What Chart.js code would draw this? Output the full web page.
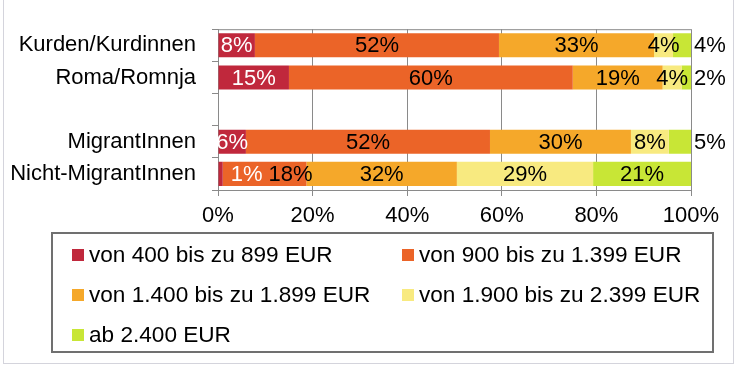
<!DOCTYPE html>
<html>
<head>
<meta charset="utf-8">
<script src="https://cdn.jsdelivr.net/npm/chart.js@4/dist/chart.umd.min.js"></script>
<style>
  body { margin: 0; background: #fff; }
  #wrap { position: relative; width: 734px; height: 366px; overflow: hidden; font-family: "Liberation Sans", Arial, sans-serif; }
  #frame { position: absolute; left: 3px; top: -2px; width: 731px; height: 366px; box-sizing: border-box; border: 1px solid #d4d4dc; }
  canvas { position: absolute; left: 0; top: 0; }
  #legend { position: absolute; left: 51px; top: 232px; width: 663px; height: 121px; box-sizing: border-box;
    border: 2px solid #707070; display: grid; grid-template-columns: 330px 310px; grid-auto-rows: 40px;
    padding: 1px 0 0 19px; }
  .item { display: flex; align-items: center; font-size: 22.6px; color: #000; white-space: nowrap; }
  .box { width: 12px; height: 12px; margin-right: 5px; flex: none; }
</style>
</head>
<body>
<div id="wrap">
  <div id="frame"></div>
  <canvas id="chart" width="734" height="366"></canvas>
  <div id="legend"></div>
</div>
<script>
// groups (empty one is the gap between the two blocks)
var groups = ["Kurden/Kurdinnen", "Roma/Romnja", "", "MigrantInnen", "Nicht-MigrantInnen"];

// income classes
var classes = [
  "von 400 bis zu 899 EUR",
  "von 900 bis zu 1.399 EUR",
  "von 1.400 bis zu 1.899 EUR",
  "von 1.900 bis zu 2.399 EUR",
  "ab 2.400 EUR"
];
var colors = ["#c0283c", "#eb6428", "#f5a82a", "#f8ea80", "#c8e636"];

// shares in percent, one array per income class
var share400 = [7.8, 15, null, 5.9, 1.0];
var share900 = [51.6, 60, null, 51.6, 17.7];
var share1400 = [32.8, 19, null, 29.8, 31.8];
var share1900 = [4.0, 4, null, 8.0, 28.8];
var share2400 = [3.8, 2, null, 4.7, 20.7];

var xTicks = [0, 20, 40, 60, 80, 100];

Chart.defaults.font.family = "'Liberation Sans', Arial, sans-serif";
Chart.defaults.font.size = 22;
Chart.defaults.color = "#000";

var series = [share400, share900, share1400, share1900, share2400];

var datasets = series.map(function (values, i) {
  return {
    label: classes[i],
    data: values,
    backgroundColor: colors[i],
    borderWidth: 0,
    categoryPercentage: 1,
    barPercentage: 0.75,
  };
});

// plot border (top line) like the excel plot area
var frameLines = {
  id: "frameLines",
  afterDraw: function (chart) {
    var a = chart.chartArea;
    var ctx = chart.ctx;
    ctx.save();
    ctx.strokeStyle = "#8a8a8a";
    ctx.lineWidth = 1;
    ctx.beginPath();
    ctx.moveTo(a.left, a.top + 0.5);
    ctx.lineTo(a.right, a.top + 0.5);
    ctx.stroke();
    ctx.restore();
  },
};

// percent labels inside the segments, pushed aside where they do not fit
var segLabels = {
  id: "segLabels",
  afterDatasetsDraw: function (chart) {
    var ctx = chart.ctx;
    ctx.save();
    ctx.font = "22px 'Liberation Sans', Arial, sans-serif";
    ctx.textBaseline = "middle";
    ctx.textAlign = "left";
    var last = chart.data.datasets.length - 1;
    chart.data.labels.forEach(function (g, row) {
      var prevRight = -1000;
      chart.data.datasets.forEach(function (ds, k) {
        var v = ds.data[row];
        if (v == null) return;
        var el = chart.getDatasetMeta(k).data[row];
        var txt = Math.round(v) + "%";
        var w = ctx.measureText(txt).width;
        var segW = el.x - el.base;
        var left = (el.x + el.base) / 2 - w / 2;
        if (k === last && w + 2 > segW) {
          left = el.x + 3;
        } else if (k === 0 && segW < w / 2) {
          left = el.x + 8;
        }
        if (left < prevRight + 4) left = prevRight + 6;
        ctx.fillStyle = k === 0 ? "#fff" : "#000";
        ctx.fillText(txt, left, el.y + 1);
        prevRight = left + w;
      });
    });
    ctx.restore();
  },
};

var chart = new Chart(document.getElementById("chart"), {
  type: "bar",
  data: { labels: groups, datasets: datasets },
  plugins: [frameLines, segLabels],
  options: {
    indexAxis: "y",
    responsive: false,
    animation: false,
    layout: { padding: { top: 17, right: 43, bottom: 136, left: 0 } },
    plugins: {
      legend: { display: false },
      tooltip: { enabled: false },
    },
    scales: {
      x: {
        stacked: true,
        min: 0,
        max: 100,
        afterFit: function (s) { s.height = 40; },
        afterBuildTicks: function (s) {
          s.ticks = xTicks.map(function (v) { return { value: v }; });
        },
        ticks: {
          padding: 7,
          maxRotation: 0,
          callback: function (v) { return v + "%"; },
        },
        grid: { color: "#8a8a8a", tickLength: 6 },
        border: { color: "#8a8a8a" },
      },
      y: {
        stacked: true,
        afterFit: function (s) { s.width = 218; },
        ticks: { padding: 16 },
        grid: { drawOnChartArea: false, color: "#8a8a8a", tickLength: 6, offset: true },
        border: { color: "#8a8a8a" },
      },
    },
  },
});

// legend box in two columns
var legend = document.getElementById("legend");
chart.data.datasets.forEach(function (ds) {
  var item = document.createElement("div");
  item.className = "item";
  var box = document.createElement("span");
  box.className = "box";
  box.style.background = ds.backgroundColor;
  item.appendChild(box);
  item.appendChild(document.createTextNode(ds.label));
  legend.appendChild(item);
});
</script>
</body>
</html>
